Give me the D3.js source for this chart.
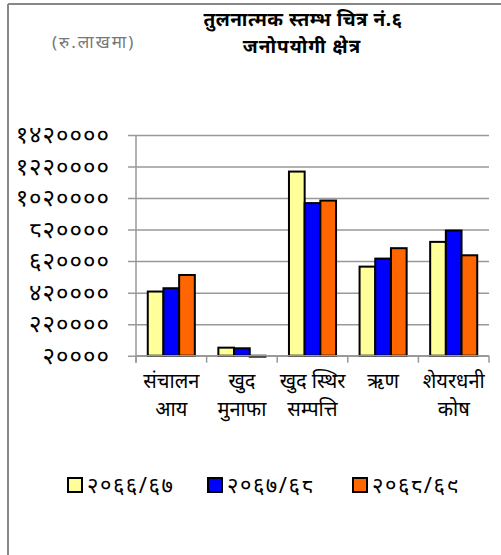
<!doctype html>
<html lang="ne">
<head>
<meta charset="utf-8">
<title>तुलनात्मक स्तम्भ चित्र नं.६</title>
<script src="https://cdnjs.cloudflare.com/ajax/libs/d3/7.8.5/d3.min.js"></script>
<style>
	body { margin: 0; background: #fff; }
	text { font-family: "Noto Sans", "DejaVu Sans", sans-serif; }
</style>
</head>
<body>
<div id="chart"></div>
<script>
/* data */
var categories = [['संचालन', 'आय'], ['खुद', 'मुनाफा'], ['खुद स्थिर', 'सम्पत्ति'], ['ऋण'], ['शेयरधनी', 'कोष']];
var series = ['२०६६/६७', '२०६७/६८', '२०६८/६९'];
var values2066 = [427000, 71000, 1188000, 585000, 742000];
var values2067 = [448000, 67000, 988000, 636000, 814000];
var values2068 = [532000, 14000, 1004000, 702000, 657000];
var yTicks = [20000, 220000, 420000, 620000, 820000, 1020000, 1220000, 1420000];
var yTickLabels = ['२००००', '२२००००', '४२००००', '६२००००', '८२००००', '१०२००००', '१२२००००', '१४२००००'];
var colors = ['#FFFF99', '#0000FF', '#FF6600'];

var allValues = [values2066, values2067, values2068];

/* view */
var width = 501, height = 555;
var svg = d3.select('#chart').append('svg')
	.attr('width', width)
	.attr('height', height);

// frame
svg.append('line').attr('x1', 8).attr('y1', 4).attr('x2', width).attr('y2', 4)
	.style('stroke', '#888').style('stroke-width', 2);
svg.append('line').attr('x1', 8).attr('y1', 4).attr('x2', 8).attr('y2', height)
	.style('stroke', '#888').style('stroke-width', 2);

// titles
svg.append('text').attr('x', 303).attr('y', 26)
	.attr('text-anchor', 'middle').style('font-size', '19px').style('font-weight', 'bold')
	.style('letter-spacing', '0.5px')
	.text('तुलनात्मक स्तम्भ चित्र नं.६');
svg.append('text').attr('x', 302).attr('y', 53)
	.attr('text-anchor', 'middle').style('font-size', '19px').style('font-weight', 'bold')
	.style('letter-spacing', '1px')
	.text('जनोपयोगी क्षेत्र');
svg.append('text').attr('x', 52).attr('y', 48)
	.style('font-size', '17px').style('fill', '#777').style('letter-spacing', '2px')
	.text('(रु.लाखमा)');

var plot = { left: 136, right: 489, top: 135, bottom: 355.7 };

var x = d3.scaleBand()
	.domain(d3.range(categories.length))
	.range([plot.left, plot.right])
	.paddingInner(0).paddingOuter(0);

var y = d3.scaleLinear()
	.domain([20000, 1420000])
	.range([plot.bottom, plot.top]);

var barW = x.bandwidth() / 4.5;

// gridlines + y ticks
var yAxis = d3.axisLeft(y)
	.tickValues(yTicks)
	.tickSize(-(plot.right - plot.left) - 8)
	.tickFormat(function(d, i){ return yTickLabels[i]; });

var gy = svg.append('g')
	.attr('transform', 'translate(' + plot.left + ',0)')
	.call(yAxis);
gy.select('.domain').remove();
gy.selectAll('.tick line')
	.attr('x1', -8).attr('x2', plot.right - plot.left)
	.style('stroke', '#999').style('stroke-width', 1.5);
gy.selectAll('.tick text')
	.attr('x', -26)
	.style('font-size', '24px')
	.style('letter-spacing', '1px')
	.style('fill', '#000')
	.style('font-family', '"Noto Sans", sans-serif');

// bars
var groups = svg.selectAll('g.cat')
	.data(categories)
	.enter().append('g')
	.attr('class', 'cat')
	.attr('transform', function(d, i){ return 'translate(' + (x(i) + barW * 0.75) + ',0)'; });

groups.selectAll('rect')
	.data(function(d, i){ return allValues.map(function(v, s){ return { s: s, v: v[i] }; }); })
	.enter().append('rect')
	.attr('x', function(d){ return d.s * barW; })
	.attr('y', function(d){ return Math.min(y(d.v), y(20000)); })
	.attr('width', barW)
	.attr('height', function(d){ return Math.abs(y(20000) - y(d.v)); })
	.style('fill', function(d){ return colors[d.s]; })
	.style('stroke', '#000')
	.style('stroke-width', 2);

// axes lines
svg.append('line')
	.attr('x1', plot.left).attr('x2', plot.left)
	.attr('y1', plot.top).attr('y2', plot.bottom + 7)
	.style('stroke', '#999').style('stroke-width', 1.5);
svg.append('line')
	.attr('x1', plot.left).attr('x2', plot.right)
	.attr('y1', plot.bottom).attr('y2', plot.bottom)
	.style('stroke', '#999').style('stroke-width', 1.5);
svg.selectAll('line.xtick')
	.data(d3.range(categories.length + 1))
	.enter().append('line')
	.attr('class', 'xtick')
	.attr('x1', function(d){ return plot.left + d * x.step(); })
	.attr('x2', function(d){ return plot.left + d * x.step(); })
	.attr('y1', plot.bottom).attr('y2', plot.bottom + 7)
	.style('stroke', '#999').style('stroke-width', 1.5);

// category labels
var labels = svg.selectAll('text.cat')
	.data(categories)
	.enter().append('text')
	.attr('class', 'cat')
	.attr('text-anchor', 'middle')
	.attr('x', function(d, i){ return x(i) + x.bandwidth() / 2; })
	.attr('y', 388)
	.style('font-size', '20px');
labels.selectAll('tspan')
	.data(function(d){ return d; })
	.enter().append('tspan')
	.attr('x', function(){ return d3.select(this.parentNode).attr('x'); })
	.attr('dy', function(d, i){ return i === 0 ? 0 : 28; })
	.text(function(d){ return d; });

// legend
var legendX = [68, 208, 353];
var legend = svg.selectAll('g.legend')
	.data(series)
	.enter().append('g')
	.attr('class', 'legend')
	.attr('transform', function(d, i){ return 'translate(' + legendX[i] + ',478)'; });
legend.append('rect')
	.attr('width', 14).attr('height', 14)
	.style('fill', function(d, i){ return colors[i]; })
	.style('stroke', '#000').style('stroke-width', 2);
legend.append('text')
	.attr('x', 19).attr('y', 15)
	.style('font-size', '22px')
	.style('letter-spacing', '1.5px')
	.text(function(d){ return d; });
</script>
</body>
</html>
